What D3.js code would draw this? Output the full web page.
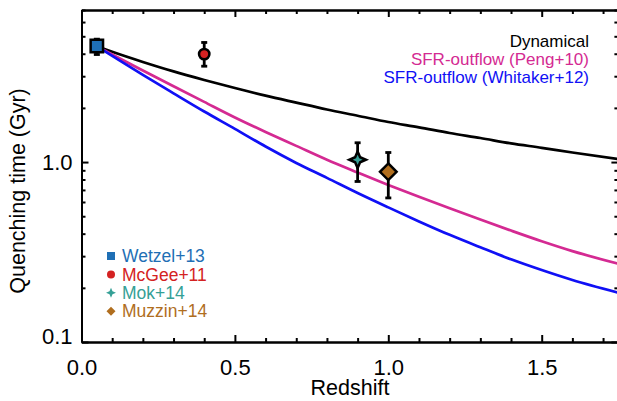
<!DOCTYPE html>
<html><head><meta charset="utf-8">
<script src="https://cdn.jsdelivr.net/npm/d3@7"></script>
<style>
html,body{margin:0;padding:0;background:#fff;}
svg{display:block;font-family:"Liberation Sans",Arial,Helvetica,sans-serif;}
</style></head>
<body><svg id="c" width="617" height="401"></svg>
<script>
// ---- data ----
const redshiftGrid = [0.05,0.1,0.2,0.3,0.4,0.5,0.6,0.7,0.8,0.9,1.0,1.1,1.2,1.3,1.4,1.5,1.6,1.75];
const dynamical   = [4.40,4.10,3.60,3.19,2.86,2.58,2.34,2.14,1.96,1.81,1.67,1.56,1.45,1.36,1.27,1.20,1.13,1.04];
const sfrPeng     = [4.40,3.96,3.23,2.64,2.16,1.77,1.47,1.23,1.03,0.875,0.746,0.641,0.553,0.479,0.416,0.363,0.320,0.272];
const sfrWhitaker = [4.40,3.89,3.05,2.41,1.91,1.53,1.22,0.989,0.817,0.673,0.560,0.468,0.394,0.336,0.288,0.251,0.221,0.188];
const curveNames  = ["Dynamical","SFR-outflow (Peng+10)","SFR-outflow (Whitaker+12)"];

const obsNames = ["Wetzel+13","McGee+11","Mok+14","Muzzin+14"];
const obsZ     = [0.05,0.40,0.90,1.00];
const obsT     = [4.42,3.98,1.03,0.883];
const obsLo    = [3.96,3.41,0.78,0.632];
const obsHi    = [4.82,4.62,1.28,1.13];

const xMajor = [0.0,0.5,1.0,1.5];
const xMinor = [0.1,0.2,0.3,0.4,0.6,0.7,0.8,0.9,1.1,1.2,1.3,1.4,1.6,1.7];
const yMajor = [0.1,1.0];
const yMinor = [0.2,0.3,0.4,0.5,0.6,0.7,0.8,0.9,2,3,4,5,6,7];
const yLabels = ["0.1","1.0"];

// ---- styles ----
const curveColors = ["#000000","#d42a92","#1010f5"];
const obsColors = ["#1f6fb5","#d42222","#35a096","#b06e1e"];
const obsShapes = ["square","circle","star","diamond"];

const svg = d3.select("#c");
const L = 81.5, R = 618.4, T = 10, B = 342;
const x = d3.scaleLinear().domain([0,1.75]).range([L,R]);
const y = d3.scaleLog().domain([0.1,7]).range([B,T]);

svg.append("defs").append("clipPath").attr("id","clip")
  .append("rect").attr("x",L).attr("y",T).attr("width",R-L).attr("height",B-T);

// curves
const line = d3.line().x(d=>x(d[0])).y(d=>y(d[1])).curve(d3.curveMonotoneX);
[dynamical,sfrPeng,sfrWhitaker].forEach((vals,i)=>{
  svg.append("path").attr("clip-path","url(#clip)")
    .datum(redshiftGrid.map((z,j)=>[z,vals[j]]))
    .attr("d",line).attr("fill","none")
    .attr("stroke",curveColors[i]).attr("stroke-width",2.7);
});

// axes
function styleAxis(g){
  g.selectAll("path.domain").attr("stroke","#000").attr("stroke-width",2);
  g.selectAll(".tick line").attr("stroke","#000").attr("stroke-width",2);
}
const fs = 22;
const gb = svg.append("g").attr("transform",`translate(0,${B})`)
  .call(d3.axisBottom(x).tickValues(xMajor).tickSize(-7).tickSizeOuter(0).tickFormat(d3.format(".1f")));
gb.call(styleAxis);
gb.selectAll("text").attr("y",0).attr("dy",null).attr("transform","translate(0,33)")
  .attr("font-size",fs).attr("fill","#000").attr("font-family","Liberation Sans, Arial, sans-serif");
svg.append("g").attr("transform",`translate(0,${B})`)
  .call(d3.axisBottom(x).tickValues(xMinor).tickSize(-4).tickSizeOuter(0).tickFormat("")).call(styleAxis);

const gt = svg.append("g").attr("transform",`translate(0,${T})`)
  .call(d3.axisTop(x).tickValues(xMajor).tickSize(-7).tickSizeOuter(0).tickFormat(""));
gt.call(styleAxis);
svg.append("g").attr("transform",`translate(0,${T})`)
  .call(d3.axisTop(x).tickValues(xMinor).tickSize(-4).tickSizeOuter(0).tickFormat("")).call(styleAxis);

const gl = svg.append("g").attr("transform",`translate(${L},0)`)
  .call(d3.axisLeft(y).tickValues(yMajor).tickSize(-7).tickSizeOuter(0).tickPadding(9)
     .tickFormat((d,i)=>yLabels[i]));
gl.call(styleAxis);
gl.selectAll("text").attr("font-size",fs).attr("fill","#000")
  .attr("font-family","Liberation Sans, Arial, sans-serif")
  .attr("dy",(d,i)=> i===0 ? "0.08em" : "0.34em");
svg.append("g").attr("transform",`translate(${L},0)`)
  .call(d3.axisLeft(y).tickValues(yMinor).tickSize(-4).tickSizeOuter(0).tickFormat("")).call(styleAxis);

svg.append("g").attr("transform",`translate(${R},0)`)
  .call(d3.axisRight(y).tickValues(yMajor).tickSize(-7).tickSizeOuter(0).tickFormat("")).call(styleAxis);
svg.append("g").attr("transform",`translate(${R},0)`)
  .call(d3.axisRight(y).tickValues(yMinor).tickSize(-4).tickSizeOuter(0).tickFormat("")).call(styleAxis);

// axis titles
svg.append("text").attr("x",(L+R)/2).attr("y",395).attr("text-anchor","middle")
  .attr("font-size",21.5).text("Redshift");
svg.append("text").attr("transform","translate(25,191) rotate(-90)").attr("text-anchor","middle")
  .attr("font-size",21.5).text("Quenching time (Gyr)");

// symbol generator
function shapePath(shape,s){
  if(shape==="square") return `M${-s},${-s}H${s}V${s}H${-s}Z`;
  if(shape==="circle") return d3.arc()({innerRadius:0,outerRadius:s,startAngle:0,endAngle:2*Math.PI});
  if(shape==="diamond") return `M0,${-s}L${s},0L0,${s}L${-s},0Z`;
  if(shape==="star"){ const k=s*0.3; return `M0,${-s}L${k},${-k}L${s},0L${k},${k}L0,${s}L${-k},${k}L${-s},0L${-k},${-k}Z`; }
}
const markSize = [6.2,5.2,8.3,8.3];

// error bars + points
obsNames.forEach((n,i)=>{
  const cx = x(obsZ[i]);
  const g = svg.append("g");
  g.append("line").attr("x1",cx).attr("x2",cx).attr("y1",y(obsLo[i])).attr("y2",y(obsHi[i]))
    .attr("stroke","#000").attr("stroke-width",2.8);
  [obsLo[i],obsHi[i]].forEach(v=>{
    g.append("line").attr("x1",cx-3).attr("x2",cx+3).attr("y1",y(v)).attr("y2",y(v))
      .attr("stroke","#000").attr("stroke-width",2.8);
  });
  g.append("path").attr("transform",`translate(${cx},${y(obsT[i])})`)
    .attr("d",shapePath(obsShapes[i],markSize[i]))
    .attr("fill",obsColors[i]).attr("stroke","#000").attr("stroke-width",2.5).attr("stroke-linejoin","miter");
});

// top-right legend
curveNames.forEach((n,i)=>{
  svg.append("text").attr("x",589).attr("y",47+i*18).attr("text-anchor","end")
    .attr("font-size",17).attr("fill",curveColors[i]).text(n);
});

// bottom-left legend
const legSize = [4,4,5,4.5];
obsNames.forEach((n,i)=>{
  const cy = 256 + i*18.4;
  svg.append("path").attr("transform",`translate(111,${cy})`)
    .attr("d",shapePath(obsShapes[i],legSize[i])).attr("fill",obsColors[i]);
  svg.append("text").attr("x",122).attr("y",cy+6.2).attr("font-size",17.5)
    .attr("fill",obsColors[i]).text(n);
});
</script></body></html>
